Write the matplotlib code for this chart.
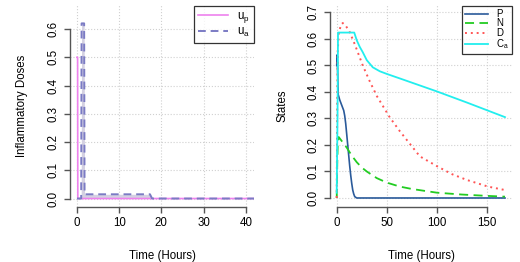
import matplotlib.pyplot as plt

plt.rcParams['font.family'] = ['Liberation Sans', 'DejaVu Sans']

# left panel: inflammatory doses
t_up = [0.0, 0.05, 0.15, 0.2, 42.0]
u_p = [0.5, 0.5, 0.5, 0.0, 0.0]
t_ua = [0.0, 1.0, 1.1, 1.7, 1.8, 2.0, 17.3, 17.8, 42.0]
u_a = [0.0, 0.0, 0.62, 0.62, 0.015, 0.015, 0.015, 0.0, 0.0]

# right panel: states
t_P = [0, 0.5, 1.5, 3, 5, 7, 8, 9, 10, 11, 12, 13, 14, 15, 16, 17, 18, 20, 168]
P = [0.50, 0.54, 0.39, 0.37, 0.35, 0.33, 0.31, 0.28, 0.24, 0.20, 0.16, 0.12,
     0.085, 0.055, 0.03, 0.015, 0.005, 0.0, 0.0]
t_N = [0, 0.5, 1, 2, 5, 10, 15, 20, 25, 30, 40, 50, 63, 75, 100, 125, 150, 168]
N = [0.0, 0.12, 0.2, 0.23, 0.215, 0.19, 0.16, 0.135, 0.115, 0.10, 0.075,
     0.058, 0.043, 0.034, 0.02, 0.013, 0.008, 0.005]
t_D = [0, 0.5, 1, 2, 4, 6, 9, 13, 18, 26, 33, 40, 53, 63, 83, 101, 115, 130,
       151, 168]
D = [0.0, 0.35, 0.55, 0.62, 0.65, 0.66, 0.65, 0.626, 0.58, 0.5, 0.44, 0.385,
     0.304, 0.252, 0.157, 0.118, 0.09, 0.068, 0.043, 0.03]
t_Ca = [0, 0.8, 1.3, 5, 10, 17.5, 20, 23, 26, 30, 36, 43, 50, 63, 100, 130, 168]
Ca = [0.02, 0.3, 0.624, 0.624, 0.624, 0.624, 0.595, 0.57, 0.55, 0.52, 0.493,
      0.478, 0.468, 0.451, 0.402, 0.36, 0.305]

fig = plt.figure(figsize=(5.2, 2.62), dpi=100)
ax1 = fig.add_axes([70 / 520, 55 / 262, 184 / 520, 202 / 262])
ax2 = fig.add_axes([330 / 520, 55 / 262, 182 / 520, 202 / 262])

fs = 8.3
axcol = '#555555'


def style(ax, xticks, yticks, ylab):
    ax.set_xticks(xticks)
    ax.set_yticks(yticks)
    ax.set_yticklabels(['%.1f' % v for v in yticks], rotation=90, va='center')
    for s in ['top', 'right']:
        ax.spines[s].set_visible(False)
    ax.spines['left'].set_bounds(yticks[0], yticks[-1])
    ax.spines['bottom'].set_bounds(xticks[0], xticks[-1])
    for s in ['left', 'bottom']:
        ax.spines[s].set_color(axcol)
        ax.spines[s].set_linewidth(1.0)
    ax.tick_params(length=4.3, width=1.0, color=axcol, labelsize=fs, pad=3)
    ax.grid(True, color='#d0d0d0', linestyle=':', linewidth=0.8)
    ax.set_axisbelow(True)
    ax.set_xlabel('Time (Hours)', fontsize=fs, labelpad=15)
    ax.set_ylabel(ylab, fontsize=fs, labelpad=14)


ax1.fill_between(t_ua, u_a, 0, color='#d4d1e2', linewidth=0)
ax1.plot(t_up, u_p, color='#ee82ee', linewidth=1.2, label=r'$\mathregular{u_p}$')
ax1.plot(t_ua, u_a, color='#7b7bc4', linewidth=1.4, linestyle=(0, (4, 2.5)),
         label=r'$\mathregular{u_a}$')
ax1.set_xlim(-1.65, 41.95)
ax1.set_ylim(-0.03, 0.685)
style(ax1, [0, 10, 20, 30, 40], [0.0, 0.1, 0.2, 0.3, 0.4, 0.5, 0.6],
      'Inflammatory Doses')
leg1 = ax1.legend(loc='upper right', bbox_to_anchor=(1.0, 0.995), fontsize=fs,
                  frameon=True, fancybox=False, edgecolor='black',
                  handlelength=2.6, borderaxespad=0, labelspacing=0.1,
                  borderpad=0.35, handletextpad=0.8)
leg1.get_frame().set_linewidth(0.9)

ax2.plot(t_P, P, color='#2a5a9a', linewidth=1.2, label='P')
ax2.plot(t_N, N, color='#22cc22', linewidth=1.3, linestyle=(0, (5, 3)),
         label='N')
ax2.plot(t_D, D, color='#ff5555', linewidth=1.4, linestyle=(0, (1, 2)),
         label='D')
ax2.plot(t_Ca, Ca, color='#22eeee', linewidth=1.3, label=r'$\mathregular{C_a}$')
ax2.set_xlim(-6.7, 175)
ax2.set_ylim(-0.034, 0.728)
style(ax2, [0, 50, 100, 150], [0.0, 0.1, 0.2, 0.3, 0.4, 0.5, 0.6, 0.7],
      'States')
leg2 = ax2.legend(loc='upper right', bbox_to_anchor=(1.0, 0.995), fontsize=7,
                  frameon=True, fancybox=False, edgecolor='black',
                  handlelength=2.4, borderaxespad=0, labelspacing=-0.05,
                  borderpad=0.3, handletextpad=0.8)
leg2.get_frame().set_linewidth(0.9)

fig.savefig('out.png', dpi=100)
